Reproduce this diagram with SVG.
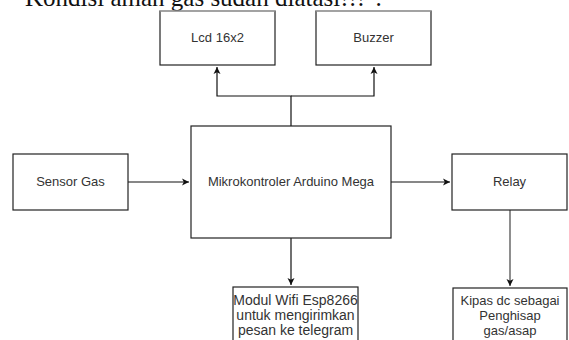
<svg xmlns="http://www.w3.org/2000/svg" width="569" height="340" viewBox="0 0 569 340">
<style>
.box{fill:#fff;stroke:#222;stroke-width:1.2}
.lbl{font-family:"Liberation Sans",Arial,sans-serif;font-size:13px;fill:#333;text-anchor:middle}
.big{font-size:14px}
.edge{fill:none;stroke:#111;stroke-width:1.2}
.top{stroke:#ccc;stroke-width:1}
.cap{font-family:"Liberation Serif","Times New Roman",serif;font-size:25px;fill:#111}
</style>
<defs>
<marker id="arr" markerWidth="8" markerHeight="8" refX="7" refY="4" orient="auto" markerUnits="userSpaceOnUse">
<path d="M0,0.5 L7,4 L0,7.5 L1.8,4 Z" fill="#111"/>
</marker>
</defs>
<rect width="569" height="340" fill="#fff"/>
<text class="cap" x="25" y="6">Kondisi aman gas sudah diatasi!!!".</text>
<g id="edges">
<path class="edge" d="M291,126 V96 H217 V67" marker-end="url(#arr)"/>
<path class="edge" d="M291,96 H374 V67" marker-end="url(#arr)"/>
<path class="edge" d="M128,182 H189" marker-end="url(#arr)"/>
<path class="edge" d="M391,182 H450" marker-end="url(#arr)"/>
<path class="edge" d="M291,238 V285" marker-end="url(#arr)"/>
<path class="edge" d="M510,210 V286" marker-end="url(#arr)" style="stroke:#444"/>
</g>
<g id="lcd">
<rect class="box" x="160" y="11" width="115" height="54"/>
<line class="top" x1="160" y1="11" x2="275" y2="11"/>
<text class="lbl" x="217.5" y="42">Lcd 16x2</text>
</g>
<g id="buzzer">
<rect class="box" x="316" y="11" width="115" height="54"/>
<line class="top" x1="316" y1="11" x2="431" y2="11"/>
<text class="lbl" x="373.5" y="42">Buzzer</text>
</g>
<g id="sensor">
<rect class="box" x="13" y="154" width="115" height="56"/>
<text class="lbl" x="70.5" y="186">Sensor Gas</text>
</g>
<g id="mcu">
<rect class="box" x="191" y="126" width="200" height="112"/>
<text class="lbl" x="291" y="186">Mikrokontroler Arduino Mega</text>
</g>
<g id="relay">
<rect class="box" x="452" y="154" width="115" height="56"/>
<text class="lbl" x="509.5" y="186">Relay</text>
</g>
<g id="wifi">
<rect class="box" x="233" y="287" width="125" height="60"/>
<text class="lbl big" x="295.5" y="305">Modul Wifi Esp8266</text>
<text class="lbl big" x="295.5" y="320">untuk mengirimkan</text>
<text class="lbl big" x="295.5" y="335">pesan ke telegram</text>
</g>
<g id="kipas">
<rect class="box" x="453" y="288" width="114" height="60"/>
<text class="lbl" x="510" y="305">Kipas dc sebagai</text>
<text class="lbl" x="510" y="320">Penghisap</text>
<text class="lbl" x="510" y="335">gas/asap</text>
</g>
</svg>
